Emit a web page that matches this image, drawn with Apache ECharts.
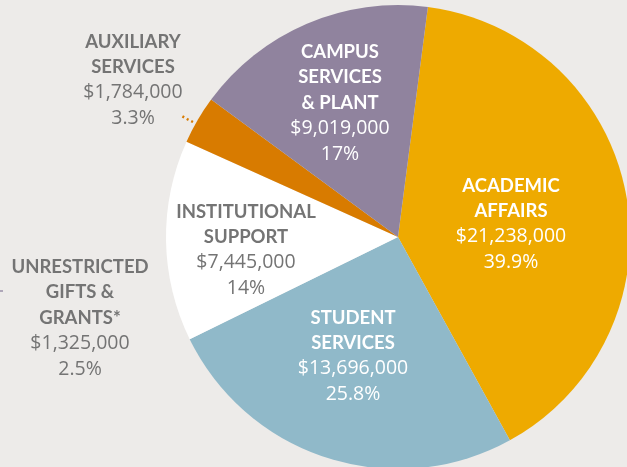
<!DOCTYPE html>
<html>
<head>
<meta charset="utf-8">
<script src="https://cdn.jsdelivr.net/npm/echarts@6/dist/echarts.min.js"></script>
<style>
  html, body { margin: 0; padding: 0; background: #edebe9; }
  #pie { width: 627px; height: 467px; }
</style>
</head>
<body>
<div id="pie"></div>
<script>
var names = ['ACADEMIC\nAFFAIRS', 'STUDENT\nSERVICES', 'INSTITUTIONAL\nSUPPORT', 'AUXILIARY\nSERVICES', 'CAMPUS\nSERVICES\n& PLANT'];
var amounts = [21238000, 13696000, 7445000, 1784000, 9019000];
var pcts = ['39.9%', '25.8%', '14%', '3.3%', '17%'];
var colors = ['#eeaa00', '#90b9c9', '#ffffff', '#d87b00', '#90839e'];
var textColors = ['#ffffff', '#ffffff', '#747474', '#747474', '#ffffff'];

// not part of the pie, shown as a side note
var extraName = 'UNRESTRICTED\nGIFTS &\nGRANTS*';
var extraAmount = 1325000;
var extraPct = '2.5%';

// label centres
var labelPos = [[511, 224], [353, 356], [246, 250], [133, 80], [340, 103]];

function money(v) {
  return '$' + v.toString().replace(/\B(?=(\d{3})+(?!\d))/g, ',');
}
function labelText(name, amt, pct) {
  var s = name.split('\n').map(function (l) { return '{n|' + l + '}'; }).join('\n');
  return s + '\n{v|' + money(amt) + '}\n{v|' + pct + '}';
}

var boldFont = 'Lato, "Open Sans", sans-serif';
var numFont = '"Open Sans", Lato, sans-serif';
function rich(c, key) {
  var n = { fontFamily: boldFont, fontWeight: 'bold', fontSize: 18.5, lineHeight: 25.5 };
  var v = { fontFamily: numFont, fontWeight: 'normal', fontSize: 19.5, lineHeight: 25.5 };
  n[key] = c; v[key] = c;
  return { n: n, v: v };
}

var hei = document.body.clientWidth;
var myPie = echarts.init(document.getElementById('pie'));

var data = names.map(function (n, i) {
  var item = {
    name: n,
    value: amounts[i],
    itemStyle: { color: colors[i] },
    label: { rich: rich(textColors[i], 'color') }
  };
  if (i == 3) {
    item.label.position = 'outside';
    item.labelLine = { show: true, length: 4, length2: 4, lineStyle: { color: '#d87b00', type: [2, 3], width: 2.5 } };
  }
  return item;
});

myPie.setOption({
  backgroundColor: '#edebe9',
  animation: false,
  graphic: [{
    type: 'text',
    x: 80,
    y: 318,
    style: {
      text: labelText(extraName, extraAmount, extraPct),
      rich: rich('#747474', 'fill'),
      fill: '#747474',
      align: 'center',
      verticalAlign: 'middle'
    }
  }, {
    type: 'line',
    shape: { x1: 0, y1: 291, x2: 3, y2: 291 },
    style: { stroke: '#9a90a8', lineWidth: 1.5 }
  }],
  series: [{
    type: 'pie',
    center: [398, 237],
    radius: [0, 232],
    startAngle: 82.6,
    clockwise: true,
    avoidLabelOverlap: false,
    itemStyle: { borderWidth: 0 },
    label: {
      show: true,
      position: 'inside',
      align: 'center',
      verticalAlign: 'middle',
      formatter: function (p) {
        return labelText(names[p.dataIndex], amounts[p.dataIndex], pcts[p.dataIndex]);
      }
    },
    labelLine: { show: false },
    labelLayout: function (p) {
      var pos = labelPos[p.dataIndex];
      var res = { x: pos[0], y: pos[1], align: 'center', verticalAlign: 'middle' };
      if (p.dataIndex == 3) {
        res.labelLinePoints = [[193, 122], [187, 119], [180, 115]];
      }
      return res;
    },
    data: data
  }]
});
</script>
</body>
</html>
